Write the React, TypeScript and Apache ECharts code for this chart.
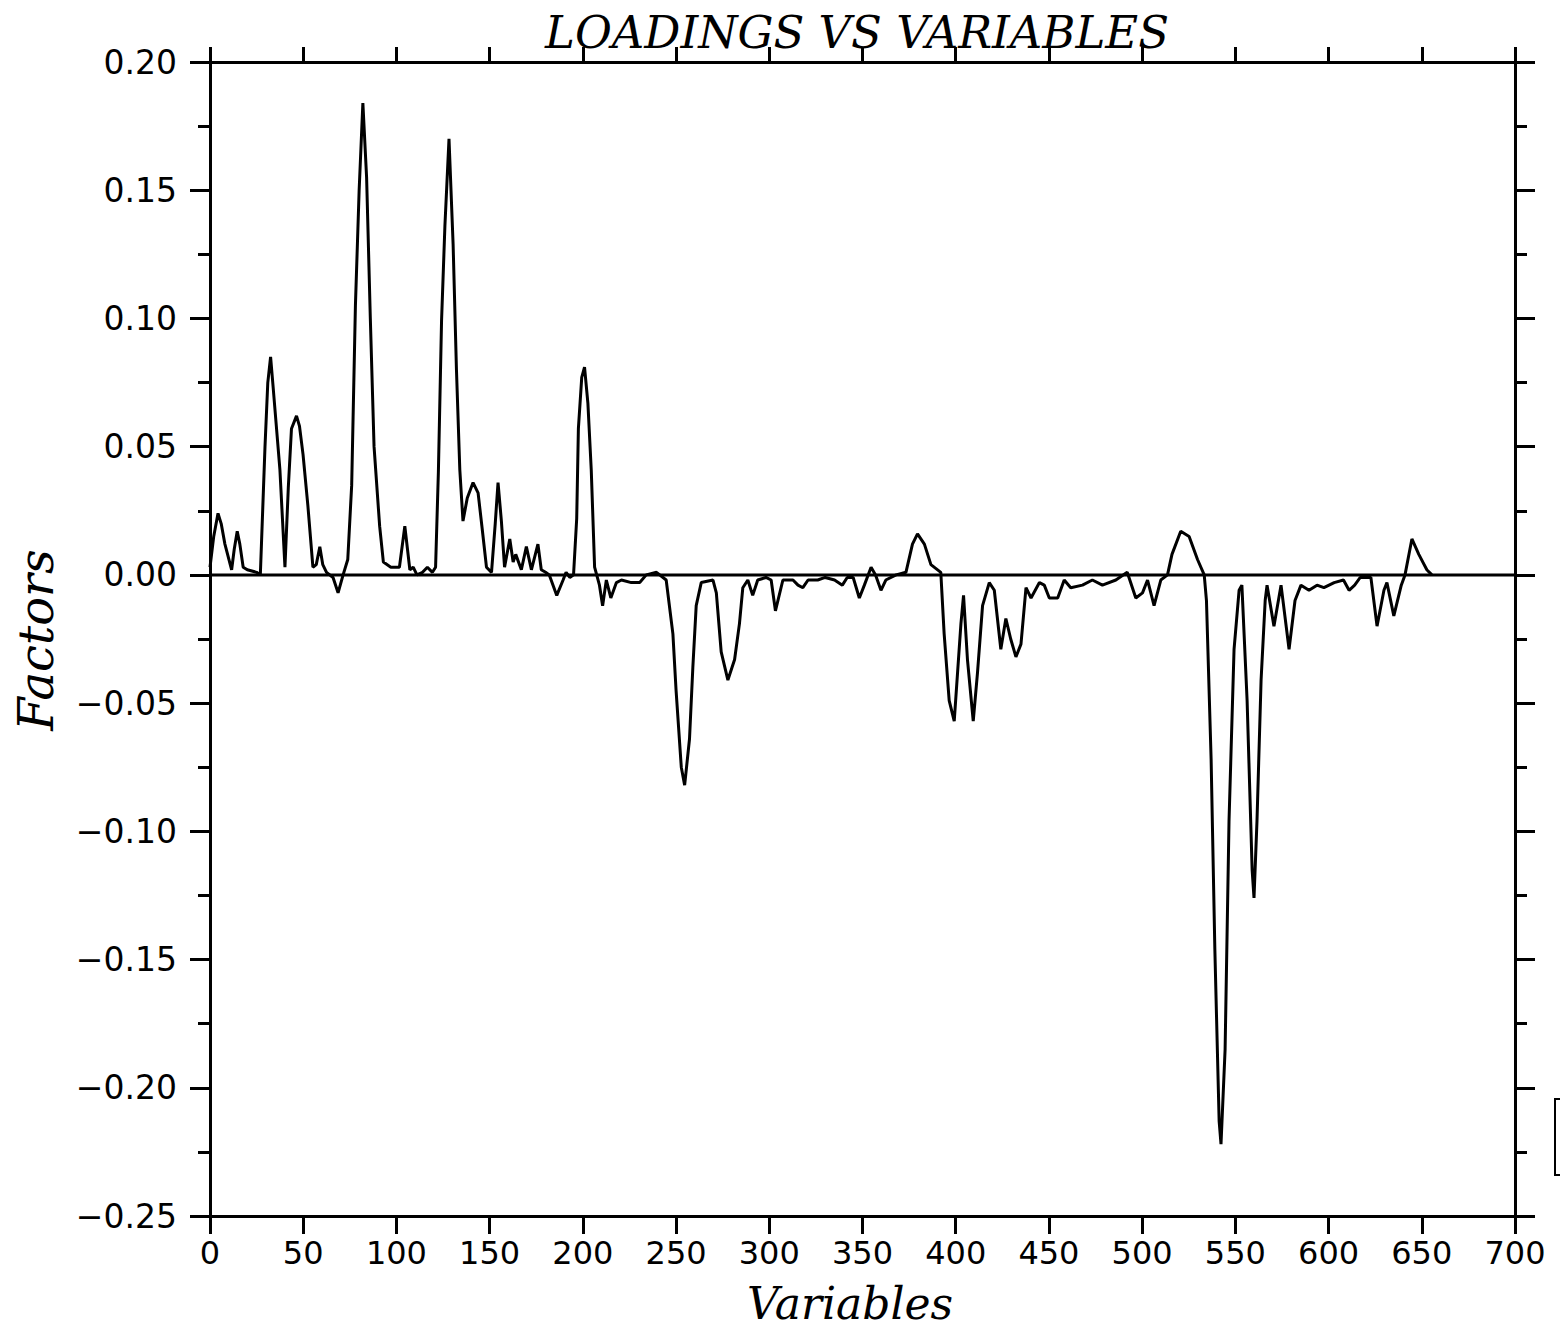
import React, { useEffect, useRef } from "react";
import * as echarts from "echarts";

// Variable index (x) and loading value (y)
const variableIdx = [
  0, 2, 4.3, 6, 8, 11.6, 13, 14.6, 16, 17.8, 20, 25, 27, 29.5, 31, 32.5, 34, 37.5, 40.2, 42,
  43.7, 46.4, 48, 49.9, 52.5, 55.2, 57, 58.9, 60.5, 62.5, 66, 68.7, 71.4, 73.9, 76, 78, 80, 82, 84, 86,
  88, 91, 93, 97, 101.6, 104.5, 107.2, 109, 111, 114, 116.6, 119.3, 121, 122.5, 124.2, 126, 128.2, 130.4, 132.2, 134,
  135.7, 138, 141.1, 143.8, 146, 148.3, 151, 153, 154.5, 156.3, 158, 160.8, 162.6, 164, 167, 169.7, 172.4, 175.9, 177.7, 180,
  182, 186, 189.4, 191, 193, 195, 196.7, 197.6, 199.4, 200.9, 202.7, 204.5, 206.3, 208.9, 210.6, 212.6, 215, 218, 220.7, 226,
  230.5, 234, 239.5, 244.7, 248.3, 250, 252.8, 254.6, 257.2, 259, 260.8, 263.5, 269.8, 271.6, 274.2, 277.8, 281.4, 284, 285.8, 288.5,
  291.1, 293.8, 298.2, 301, 303.3, 307.3, 312.7, 315.4, 318, 320.8, 326, 330, 335, 339.2, 341.8, 345, 348.3, 351, 354.6, 357,
  359.9, 362.5, 368, 373.3, 376.8, 379.5, 383.2, 386.7, 392, 393.8, 396.5, 399.2, 401, 402.8, 404.2, 406.3, 409.4, 411.7, 414.4, 418,
  420.7, 424.2, 426.9, 429.5, 432.3, 435, 437.7, 440.4, 444.9, 447.5, 450.2, 454.7, 458.2, 461.7, 468, 473.3, 478.7, 485.9, 492, 496.6,
  500.2, 502.9, 506.4, 510, 513.6, 516, 520.7, 525.2, 529.7, 533.3, 534.5, 537, 539, 541.3, 542.3, 544.5, 546.6, 549.3, 552, 553.5,
  556.3, 559, 560, 561.6, 563.8, 566, 567, 570.7, 574.5, 578.8, 582, 585.2, 589.5, 593.8, 597.5, 603, 608, 611, 614, 617,
  622.7, 626, 629.7, 631.3, 635, 639, 641, 644.7, 648.4, 652.7, 655.4,
];

const loadings = [
  0.003, 0.015, 0.024, 0.02, 0.012, 0.002, 0.01, 0.017, 0.012, 0.003, 0.002, 0.001, 0.0, 0.05, 0.075, 0.085, 0.072, 0.041, 0.003, 0.034,
  0.057, 0.062, 0.058, 0.047, 0.027, 0.003, 0.004, 0.011, 0.004, 0.001, -0.001, -0.007, 0.0, 0.006, 0.035, 0.105, 0.15, 0.184, 0.155, 0.1,
  0.05, 0.019, 0.005, 0.003, 0.003, 0.019, 0.002, 0.003, 0.0, 0.001, 0.003, 0.001, 0.003, 0.04, 0.099, 0.136, 0.17, 0.129, 0.08, 0.041,
  0.021, 0.03, 0.036, 0.032, 0.018, 0.003, 0.001, 0.02, 0.036, 0.021, 0.003, 0.014, 0.005, 0.008, 0.002, 0.011, 0.002, 0.012, 0.002, 0.001,
  0.0, -0.008, -0.002, 0.001, -0.001, 0.0, 0.022, 0.057, 0.077, 0.081, 0.067, 0.041, 0.003, -0.004, -0.012, -0.002, -0.009, -0.003, -0.002, -0.003,
  -0.003, 0.0, 0.001, -0.002, -0.023, -0.045, -0.075, -0.082, -0.064, -0.036, -0.012, -0.003, -0.002, -0.007, -0.03, -0.041, -0.033, -0.019, -0.005, -0.002,
  -0.008, -0.002, -0.001, -0.002, -0.014, -0.002, -0.002, -0.004, -0.005, -0.002, -0.002, -0.001, -0.002, -0.004, -0.001, -0.001, -0.009, -0.004, 0.003, 0.0,
  -0.006, -0.002, 0.0, 0.001, 0.012, 0.016, 0.012, 0.004, 0.001, -0.023, -0.049, -0.057, -0.038, -0.019, -0.008, -0.033, -0.057, -0.038, -0.012, -0.003,
  -0.006, -0.029, -0.017, -0.025, -0.032, -0.027, -0.005, -0.009, -0.003, -0.004, -0.009, -0.009, -0.002, -0.005, -0.004, -0.002, -0.004, -0.002, 0.001, -0.009,
  -0.007, -0.002, -0.012, -0.002, 0.0, 0.008, 0.017, 0.015, 0.006, 0.0, -0.01, -0.072, -0.146, -0.213, -0.222, -0.185, -0.096, -0.029, -0.006, -0.004,
  -0.049, -0.115, -0.126, -0.096, -0.041, -0.01, -0.004, -0.02, -0.004, -0.029, -0.01, -0.004, -0.006, -0.004, -0.005, -0.003, -0.002, -0.006, -0.004, -0.001,
  -0.001, -0.02, -0.006, -0.003, -0.016, -0.004, 0.0, 0.014, 0.008, 0.002, 0.0,
];

const titleText = "LOADINGS VS VARIABLES";
const xAxisTitle = "Variables";
const yAxisTitle = "Factors";
const xMin = 0;
const xMax = 700;
const xStep = 50;
const yMin = -0.25;
const yMax = 0.2;
const yStep = 0.05;

const INK = "#000";
const tickFont = "DejaVu Sans";
const titleFont = "DejaVu Serif";

function fmtY(v: number): string {
  const s = Math.abs(v).toFixed(2);
  return v < -1e-9 ? "\u2212" + s : s;
}

export default function App() {
  const ref = useRef<HTMLDivElement>(null);
  useEffect(() => {
    if (!ref.current) return;
    const chart = echarts.init(ref.current, undefined, { renderer: "svg" });
    const pairs = variableIdx.map((x, i) => [x, loadings[i]]);
    const lineStyleAxis = { color: INK, width: 3 };
    const xBase = {
      type: "value",
      min: xMin,
      max: xMax,
      interval: xStep,
      splitLine: { show: false },
    };
    const yBase = {
      type: "value",
      min: yMin,
      max: yMax,
      interval: yStep,
      splitLine: { show: false },
      minorTick: { show: true, splitNumber: 2, length: 12, lineStyle: { color: INK, width: 3 } },
      minorSplitLine: { show: false },
    };
    chart.setOption({
      animation: false,
      backgroundColor: "#fff",
      grid: { left: 210, right: 45, top: 62, bottom: 116, containLabel: false },
      xAxis: [
        {
          ...xBase,
          position: "bottom",
          axisLine: { show: true, onZero: false, lineStyle: lineStyleAxis },
          axisTick: { show: true, inside: false, length: 18, lineStyle: { color: INK, width: 3 } },
          axisLabel: { show: true, margin: 21, fontSize: 32, fontFamily: tickFont, color: INK },
        },
        {
          ...xBase,
          position: "top",
          axisLine: { show: true, onZero: false, lineStyle: lineStyleAxis },
          axisTick: { show: true, inside: false, length: 15, lineStyle: { color: INK, width: 3 } },
          axisLabel: { show: false },
        },
      ],
      yAxis: [
        {
          ...yBase,
          position: "left",
          axisLine: { show: true, onZero: false, lineStyle: lineStyleAxis },
          axisTick: { show: true, inside: false, length: 20, lineStyle: { color: INK, width: 3 } },
          axisLabel: { show: true, margin: 33, fontSize: 33, fontFamily: tickFont, color: INK, formatter: fmtY },
        },
        {
          ...yBase,
          position: "right",
          axisLine: { show: true, onZero: false, lineStyle: lineStyleAxis },
          axisTick: { show: true, inside: false, length: 20, lineStyle: { color: INK, width: 3 } },
          axisLabel: { show: false },
        },
      ],
      series: [
        {
          type: "line",
          xAxisIndex: 0,
          yAxisIndex: 0,
          data: [[xMin, 0], [xMax, 0]],
          symbol: "none",
          lineStyle: { color: INK, width: 3 },
          silent: true,
        },
        {
          type: "line",
          xAxisIndex: 0,
          yAxisIndex: 0,
          data: pairs,
          symbol: "none",
          smooth: false,
          lineStyle: { color: INK, width: 3 },
        },
      ],
      graphic: [
        {
          type: "text",
          x: 857,
          y: 32,
          style: {
            text: titleText,
            fontFamily: titleFont,
            fontStyle: "italic",
            fontSize: 45,
            fill: INK,
            textAlign: "center",
            textVerticalAlign: "middle",
          },
        },
        {
          type: "text",
          x: 850,
          y: 1303,
          style: {
            text: xAxisTitle,
            fontFamily: titleFont,
            fontStyle: "italic",
            fontSize: 44,
            fill: INK,
            textAlign: "center",
            textVerticalAlign: "middle",
          },
        },
        {
          type: "text",
          x: 36,
          y: 640,
          rotation: Math.PI / 2,
          style: {
            text: yAxisTitle,
            fontFamily: titleFont,
            fontStyle: "italic",
            fontSize: 48,
            fill: INK,
            textAlign: "center",
            textVerticalAlign: "middle",
          },
        },
        {
          type: "rect",
          shape: { x: 1555, y: 1099, width: 30, height: 76 },
          style: { fill: "none", stroke: INK, lineWidth: 2 },
        },
      ],
    });
    return () => chart.dispose();
  }, []);
  return (
    <div
      ref={ref}
      style={{ position: "absolute", left: 0, top: 0, width: 1560, height: 1332, background: "#fff" }}
    />
  );
}
